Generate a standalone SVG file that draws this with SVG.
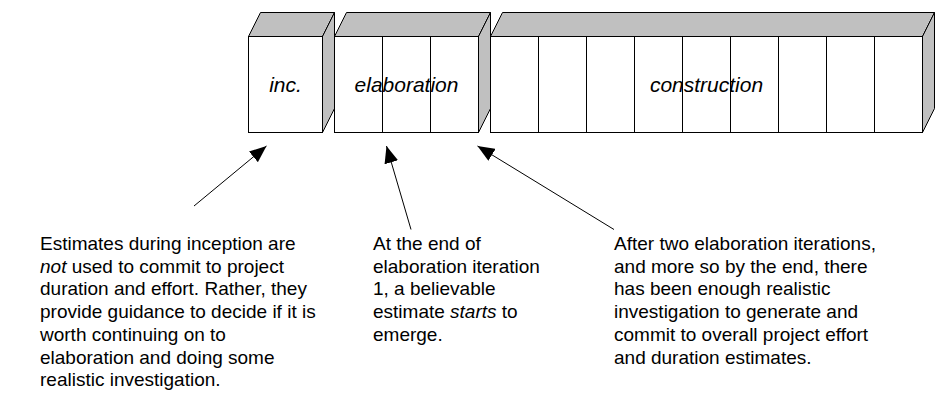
<svg xmlns="http://www.w3.org/2000/svg" width="939" height="419" viewBox="0 0 939 419">
<style>
.face{fill:#FFFFFF;stroke:#000;stroke-width:1}
.shade{fill:#C0C0C0;stroke:#000;stroke-width:1}
.div{stroke:#000;stroke-width:1}
.lbl{font-family:"Liberation Sans",Arial,sans-serif;font-size:21px;font-style:italic;fill:#000;text-anchor:middle}
.txt{font-family:"Liberation Sans",Arial,sans-serif;font-size:19px;fill:#000}
.conn{stroke:#000;stroke-width:1;fill:none;marker-end:url(#ah)}
</style>
<defs>
<marker id="ah" markerUnits="userSpaceOnUse" markerWidth="18" markerHeight="14" refX="17" refY="7" orient="auto">
<path d="M0,0 L17,7 L0,14 Z" fill="#000"/>
</marker>
</defs>
<rect width="939" height="419" fill="#FFFFFF"/>
<g id="inception">
<polygon class="shade" points="248.5,36.5 260.5,12.5 334.5,12.5 322.5,36.5"/>
<polygon class="shade" points="322.5,36.5 334.5,12.5 334.5,108.5 322.5,132.5"/>
<rect class="face" x="248.5" y="36.5" width="74" height="96"/>
<text class="lbl" x="285.5" y="92">inc.</text>
</g>
<g id="elaboration">
<polygon class="shade" points="334.5,36.5 346.5,12.5 490.5,12.5 478.5,36.5"/>
<polygon class="shade" points="478.5,36.5 490.5,12.5 490.5,108.5 478.5,132.5"/>
<rect class="face" x="334.5" y="36.5" width="144" height="96"/>
<line class="div" x1="382.5" y1="36.5" x2="382.5" y2="132.5"/>
<line class="div" x1="430.5" y1="36.5" x2="430.5" y2="132.5"/>
<text class="lbl" x="406.5" y="92">elaboration</text>
</g>
<g id="construction">
<polygon class="shade" points="490.5,36.5 502.5,12.5 934.5,12.5 922.5,36.5"/>
<polygon class="shade" points="922.5,36.5 934.5,12.5 934.5,108.5 922.5,132.5"/>
<rect class="face" x="490.5" y="36.5" width="432" height="96"/>
<line class="div" x1="538.5" y1="36.5" x2="538.5" y2="132.5"/>
<line class="div" x1="586.5" y1="36.5" x2="586.5" y2="132.5"/>
<line class="div" x1="634.5" y1="36.5" x2="634.5" y2="132.5"/>
<line class="div" x1="682.5" y1="36.5" x2="682.5" y2="132.5"/>
<line class="div" x1="730.5" y1="36.5" x2="730.5" y2="132.5"/>
<line class="div" x1="778.5" y1="36.5" x2="778.5" y2="132.5"/>
<line class="div" x1="826.5" y1="36.5" x2="826.5" y2="132.5"/>
<line class="div" x1="874.5" y1="36.5" x2="874.5" y2="132.5"/>
<text class="lbl" x="706.5" y="92">construction</text>
</g>
<g id="connectors">
<line class="conn" x1="194" y1="206" x2="266.5" y2="146"/>
<line class="conn" x1="411" y1="229.5" x2="386.5" y2="146"/>
<line class="conn" x1="614" y1="229.5" x2="477.5" y2="146"/>
</g>
<g id="note-inception">
<text class="txt" x="40" y="250">
<tspan x="40" y="250">Estimates during inception are</tspan>
<tspan x="40" y="272.7"><tspan font-style="italic">not</tspan> used to commit to project</tspan>
<tspan x="40" y="295.4">duration and effort. Rather, they</tspan>
<tspan x="40" y="318.1">provide guidance to decide if it is</tspan>
<tspan x="40" y="340.8">worth continuing on to</tspan>
<tspan x="40" y="363.5">elaboration and doing some</tspan>
<tspan x="40" y="386.2">realistic investigation.</tspan>
</text>
</g>
<g id="note-elaboration1">
<text class="txt" x="373" y="250">
<tspan x="373" y="250">At the end of</tspan>
<tspan x="373" y="272.7">elaboration iteration</tspan>
<tspan x="373" y="295.4">1, a believable</tspan>
<tspan x="373" y="318.1">estimate <tspan font-style="italic">starts</tspan> to</tspan>
<tspan x="373" y="340.8">emerge.</tspan>
</text>
</g>
<g id="note-elaboration2">
<text class="txt" x="614" y="250">
<tspan x="614" y="250">After two elaboration iterations,</tspan>
<tspan x="614" y="272.7">and more so by the end, there</tspan>
<tspan x="614" y="295.4">has been enough realistic</tspan>
<tspan x="614" y="318.1">investigation to generate and</tspan>
<tspan x="614" y="340.8">commit to overall project effort</tspan>
<tspan x="614" y="363.5">and duration estimates.</tspan>
</text>
</g>
</svg>
